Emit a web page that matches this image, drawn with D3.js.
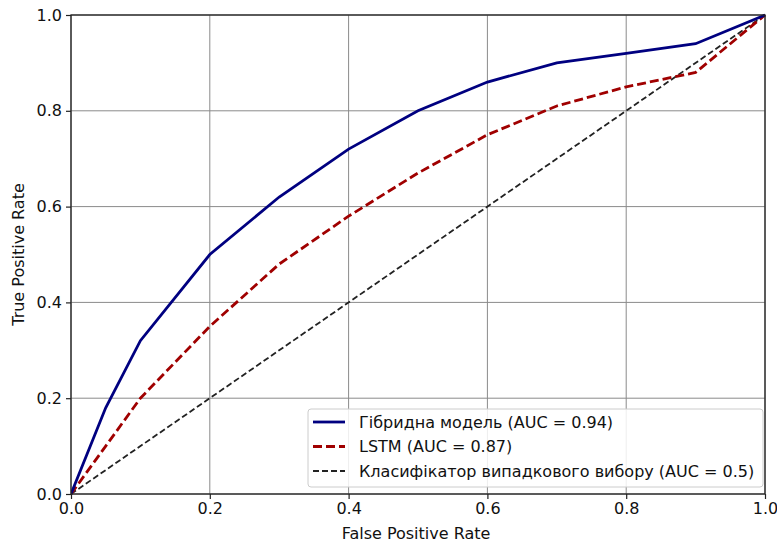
<!DOCTYPE html>
<html><head><meta charset="utf-8">
<script src="https://cdn.jsdelivr.net/npm/d3@7"></script>
<style>body{margin:0;background:#fff}svg{display:block;font-family:"DejaVu Sans",sans-serif}</style>
</head><body><svg id="c" width="777" height="542"></svg>
<script>
const fpr = [0, 0.05, 0.1, 0.2, 0.3, 0.4, 0.5, 0.6, 0.7, 0.8, 0.9, 1.0];
const tprHybrid = [0, 0.18, 0.32, 0.5, 0.62, 0.72, 0.8, 0.86, 0.9, 0.92, 0.94, 1.0];
const tprLSTM = [0, 0.10, 0.20, 0.35, 0.48, 0.58, 0.67, 0.75, 0.81, 0.85, 0.88, 1.0];
const randomX = [0, 1];
const randomY = [0, 1];
const ticks = [0, 0.2, 0.4, 0.6, 0.8, 1.0];
const labels = ["Гібридна модель (AUC = 0.94)", "LSTM (AUC = 0.87)", "Класифікатор випадкового вибору (AUC = 0.5)"];

const svg = d3.select("#c");
const L = 71, R = 765, T = 15, B = 494;
const x = d3.scaleLinear().domain([0, 1]).range([L, R]);
const y = d3.scaleLinear().domain([0, 1]).range([B, T]);

const g = svg.append("g");
g.selectAll(".gx").data(ticks).join("line")
  .attr("x1", d => x(d)).attr("x2", d => x(d)).attr("y1", T).attr("y2", B)
  .attr("stroke", "#8a8a8a").attr("stroke-width", 1);
g.selectAll(".gy").data(ticks).join("line")
  .attr("y1", d => y(d)).attr("y2", d => y(d)).attr("x1", L).attr("x2", R)
  .attr("stroke", "#8a8a8a").attr("stroke-width", 1);

const line = d3.line().x(d => x(d[0])).y(d => y(d[1]));
svg.append("clipPath").attr("id", "clp").append("rect")
  .attr("x", L).attr("y", T - 2).attr("width", R - L + 2).attr("height", B - T + 4);
const lg = svg.append("g").attr("clip-path", "url(#clp)");
lg.append("path").datum(d3.zip(randomX, randomY)).attr("d", line)
  .attr("fill", "none").attr("stroke", "#222").attr("stroke-width", 1.8).attr("stroke-dasharray", "6,3");
lg.append("path").datum(d3.zip(fpr, tprLSTM)).attr("d", line)
  .attr("fill", "none").attr("stroke", "#a00000").attr("stroke-width", 2.8).attr("stroke-dasharray", "9,4");
lg.append("path").datum(d3.zip(fpr, tprHybrid)).attr("d", line)
  .attr("fill", "none").attr("stroke", "#000080").attr("stroke-width", 2.8);

const xa = svg.append("g").attr("transform", `translate(0,${B})`)
  .call(d3.axisBottom(x).tickValues(ticks).tickFormat(d3.format(".1f")).tickSize(5).tickPadding(4));
const ya = svg.append("g").attr("transform", `translate(${L},0)`)
  .call(d3.axisLeft(y).tickValues(ticks).tickFormat(d3.format(".1f")).tickSize(5).tickPadding(4));
[xa, ya].forEach(a => {
  a.select(".domain").remove();
  a.selectAll("line").attr("stroke", "#222").attr("stroke-width", 1.2);
  a.selectAll("text").attr("font-size", 16).attr("fill", "#111").attr("font-family", "DejaVu Sans");
});
svg.append("rect").attr("x", L).attr("y", T).attr("width", R - L).attr("height", B - T)
  .attr("fill", "none").attr("stroke", "#222").attr("stroke-width", 1.3);

svg.append("text").attr("x", (L + R) / 2 - 2).attr("y", 539).attr("text-anchor", "middle")
  .attr("font-size", 16).attr("fill", "#111").text("False Positive Rate");
svg.append("text").attr("transform", `translate(24,${(T + B) / 2}) rotate(-90)`).attr("text-anchor", "middle")
  .attr("font-size", 16).attr("fill", "#111").text("True Positive Rate");

const leg = svg.append("g");
leg.append("rect").attr("x", 308).attr("y", 409).attr("width", 455).attr("height", 78).attr("rx", 3)
  .attr("fill", "#fff").attr("fill-opacity", 0.85).attr("stroke", "#ccc").attr("stroke-width", 1);
const styles = [
  {c: "#000080", w: 2.8, d: null},
  {c: "#a00000", w: 2.8, d: "9,4"},
  {c: "#222", w: 1.8, d: "6,3"}
];
labels.forEach((t, i) => {
  const yy = 422 + i * 24.5;
  leg.append("line").attr("x1", 313).attr("x2", 345).attr("y1", yy).attr("y2", yy)
    .attr("stroke", styles[i].c).attr("stroke-width", styles[i].w).attr("stroke-dasharray", styles[i].d);
  leg.append("text").attr("x", 359).attr("y", yy + 5.5).attr("font-size", 16).attr("fill", "#111").text(t);
});
</script></body></html>
